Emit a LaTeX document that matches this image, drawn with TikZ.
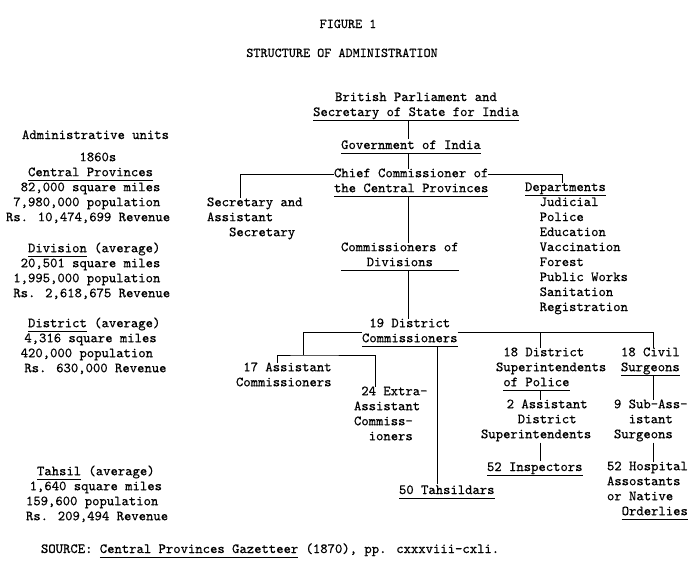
\documentclass[tikz,border=0pt]{standalone}
\usepackage{fontspec}
\setmainfont{lmmono10-regular.otf}[FakeBold=0.5]
\newsavebox{\ulbox}
\newcommand{\ulin}[1]{\sbox{\ulbox}{#1}\rlap{\rule[-4.6pt]{\wd\ulbox}{0.8pt}}\usebox{\ulbox}}
\newlength{\cw}
\setlength{\cw}{7.35pt}
\newcommand{\sk}[1]{\hspace*{#1\cw}}

\begin{document}
\begin{tikzpicture}[x=1pt, y=-1pt,
  unit/.style={inner sep=0pt, outer sep=0pt, anchor=north west, yshift=5.5pt, align=left,
    font=\fontsize{14}{15}\selectfont, execute at begin node=\strut, execute at end node=\strut},
  mid/.style={unit, anchor=north, align=center},
  ttl/.style={mid, font=\fontsize{13.5}{15}\selectfont},
  link/.style={line width=0.9pt}]
\useasboundingbox (0,0) rectangle (700,565);

%heading
\node[ttl] (fig) at (348,23) {FIGURE 1};
\node[ttl] (head) at (342,52) {STRUCTURE OF ADMINISTRATION};

%administrative units
\node[unit] (units) at (22,134) {Administrative units};
\node[unit] (prov) at (6,158) {\sk{10}1860s\\\sk{3}\ulin{Central Provinces}\\\sk{2}82,000 square miles\\\sk{1}7,980,000 population\\Rs. 10,474,699 Revenue};
\node[unit] (divs) at (6,248) {\sk{3}\ulin{Division} (average)\\\sk{2}20,501 square miles\\\sk{1}1,995,000 population\\\sk{1}Rs. 2,618,675 Revenue};
\node[unit] (dist) at (6,323) {\sk{3}\ulin{District} (average)\\\sk{2.5}4,316 square miles\\\sk{2}420,000 population\\\sk{2.5}Rs. 630,000 Revenue};
\node[unit] (tahs) at (26,471) {\sk{1.5}\ulin{Tahsil} (average)\\\sk{0.5}1,640 square miles\\159,600 population\\Rs. 209,494 Revenue};

%chart
\node[mid] (brit) at (416,98) {British Parliament and\\\ulin{Secretary of State for India}};
\node[mid] (gov) at (411,144) {\ulin{Government of India}};
\node[unit] (chief) at (334,174) {Chief Commissioner of\\\ulin{the Central Provinces}};
\node[unit] (secr) at (207,203) {Secretary and\\Assistant\\\sk{3}Secretary};
\node[unit] (dept) at (525,188) {\ulin{Departments}\\\sk{2}Judicial\\\sk{2}Police\\\sk{2}Education\\\sk{2}Vaccination\\\sk{2}Forest\\\sk{2}Public Works\\\sk{2}Sanitation\\\sk{2}Registration};
\node[unit] (div) at (341,248) {Commissioners of\\\ulin{\makebox[16\cw]{Divisions}}};
\node[unit] (dc) at (362,324) {\sk{1}19 District\\\ulin{Commissioners}};
\node[unit] (ac) at (236,368) {\sk{1}17 Assistant\\Commissioners};
\node[unit] (eac) at (354,392) {\sk{1}24 Extra-\\Assistant\\Commiss-\\\sk{2}ioners};
\node[unit] (tah) at (399,489) {\ulin{50 Tahsildars}};
\node[unit] (dsp) at (496,353) {\sk{1}18 District\\Superintendents\\\sk{1}\ulin{of Police}};
\node[unit] (adsp) at (481,405) {\sk{3.5}2 Assistant\\\sk{5}District\\Superintendents};
\node[unit] (insp) at (487,466) {\ulin{52 Inspectors}};
\node[unit] (cs) at (621,353) {18 Civil\\\ulin{Surgeons}};
\node[unit] (sas) at (614,405) {9 Sub-Ass-\\\sk{2}istant\\Surgeons};
\node[unit] (hosp) at (607,467) {52 Hospital\\Assostants\\or Native\\\sk{2}\ulin{Orderlies}};

%source
\node[unit] (src) at (41,548) {SOURCE: \ulin{Central Provinces Gazetteer} (1870), pp. cxxxviii-cxli.};

%lines
\coordinate (trunk) at (408,0);
\draw[link] (brit.south -| trunk) -- (gov.north -| trunk);
\draw[link] (gov.south -| trunk) -- (chief.north -| trunk);
\draw[link] ([yshift=-5.5pt]chief.north west) -| ([xshift=33pt]secr.north west);
\draw[link] ([yshift=-5.5pt]chief.north east) -| ([xshift=37pt]dept.north west);
\draw[link] (chief.south -| trunk) -- (div.north -| trunk);
\draw[link] (div.south -| trunk) -- (dc.north -| trunk);

\coordinate (acj) at (303,355);
\draw[link] (dc.west) -| (acj);
\draw[link] ([xshift=41pt]ac.north west) |- (acj) -| ([xshift=21pt]eac.north west);
\coordinate (tahx) at ([xshift=38pt]tah.north west);
\draw[link] (tahx |- dc.south) -- (tahx);
\draw[link] (dc.east) -| ([xshift=32pt]cs.north west);

\coordinate (dspx) at ([xshift=44pt]dsp.north west);
\draw[link] (dspx |- dc.east) -- (dspx);
\draw[link] (dspx |- dsp.south) -- (dspx |- adsp.north);
\draw[link] (dspx |- adsp.south) -- (dspx |- insp.north);

\coordinate (csx) at ([xshift=32pt]cs.north west);
\draw[link] (csx |- cs.south) -- (csx |- sas.north);
\draw[link] (csx |- sas.south) -- (csx |- hosp.north);
\end{tikzpicture}
\end{document}
